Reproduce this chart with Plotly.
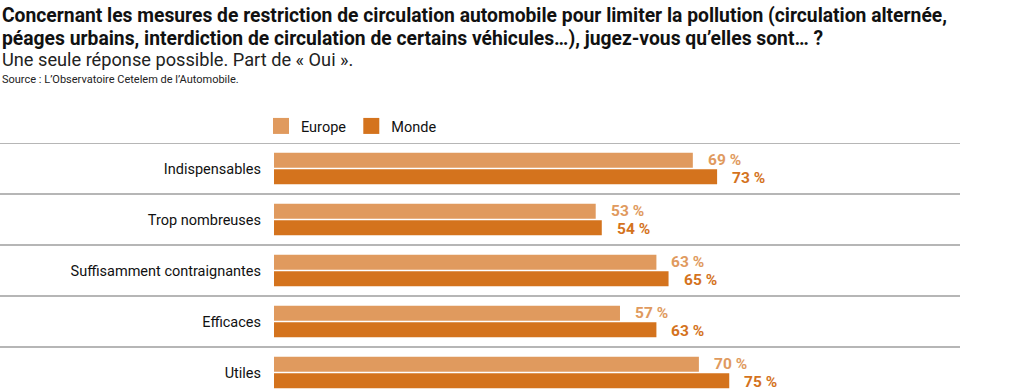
import plotly.graph_objects as go

categories = ["Indispensables", "Trop nombreuses", "Suffisamment contraignantes", "Efficaces", "Utiles"]
europe = [69, 53, 63, 57, 70]
monde = [73, 54, 65, 63, 75]
series_names = ["Europe", "Monde"]
colors = ["#E09A5E", "#D4731D"]

title_lines = [
    "Concernant les mesures de restriction de circulation automobile pour limiter la pollution (circulation alternée,",
    "péages urbains, interdiction de circulation de certains véhicules…), jugez-vous qu’elles sont… ?",
]
subtitle = "Une seule réponse possible. Part de « Oui »."
source = "Source : L’Observatoire Cetelem de l’Automobile."

FONT = "Roboto"
W, H = 1020, 392
L, R, T, B = 274, 139, 143, 0
PH = H - T - B
PW = W - L - R
ROW = 51.0

def py(p):
    return (H - B - p) / PH

def px(p):
    return (p - L) / PW

fig = go.Figure()
for name, vals, col in zip(series_names, [europe, monde], colors):
    fig.add_trace(go.Bar(
        y=categories, x=vals, orientation="h", name=name,
        marker=dict(color=col, line=dict(width=0)),
        showlegend=False, hoverinfo="x+y",
    ))
    fig.add_trace(go.Scatter(
        x=[None], y=[None], mode="markers", name=name,
        marker=dict(symbol="square", size=16, color=col),
    ))

annotations = []
for vals, col, shift in [(europe, colors[0], 9), (monde, colors[1], -9)]:
    for c, v in zip(categories, vals):
        annotations.append(dict(
            x=v, y=c, xref="x", yref="y", text=f"{v} %", showarrow=False,
            xanchor="left", yanchor="middle", xshift=13, yshift=shift,
            font=dict(family=FONT, size=15.5, color=col, weight="bold"),
        ))

annotations.append(dict(x=px(0), y=py(2), xref="paper", yref="paper", text=f"<b>{title_lines[0]}</b>",
                        showarrow=False, xanchor="left", yanchor="top",
                        font=dict(family=FONT, size=19.3, color="#111")))
annotations.append(dict(x=px(0), y=py(25), xref="paper", yref="paper", text=f"<b>{title_lines[1]}</b>",
                        showarrow=False, xanchor="left", yanchor="top",
                        font=dict(family=FONT, size=19.3, color="#111")))
annotations.append(dict(x=px(0), y=py(47), xref="paper", yref="paper", text=subtitle,
                        showarrow=False, xanchor="left", yanchor="top",
                        font=dict(family=FONT, size=18.2, color="#222")))
annotations.append(dict(x=px(0), y=py(71), xref="paper", yref="paper", text=source,
                        showarrow=False, xanchor="left", yanchor="top",
                        font=dict(family=FONT, size=11, color="#222")))

shapes = []
for i in range(len(categories)):
    shapes.append(dict(type="line", xref="paper", yref="y", x0=px(0), x1=px(960),
                       y0=i - 0.5, y1=i - 0.5, line=dict(color="#6e6e6e", width=1.2)))

fig.update_layout(
    width=W, height=H,
    margin=dict(l=L, r=R, t=T, b=B, pad=0),
    paper_bgcolor="white", plot_bgcolor="white",
    barmode="group", bargap=0.35, bargroupgap=0.1,
    xaxis=dict(range=[0, 100], visible=False, fixedrange=True),
    yaxis=dict(categoryorder="array", categoryarray=categories,
               range=[-0.5 + PH / ROW, -0.5], showgrid=False, zeroline=False,
               showline=False, ticks="", ticklabelstandoff=12,
               tickfont=dict(family=FONT, size=14.5, color="#111"), fixedrange=True),
    legend=dict(orientation="h", x=px(261), y=py(126), xanchor="left", yanchor="middle",
                font=dict(family=FONT, size=14.5, color="#111"), itemwidth=30,
                bgcolor="rgba(0,0,0,0)"),
    annotations=annotations, shapes=shapes,
    showlegend=True,
)

fig.write_html("out.html", config={"displayModeBar": False},
               post_script="document.body.style.margin='0';document.body.style.overflow='hidden';")
